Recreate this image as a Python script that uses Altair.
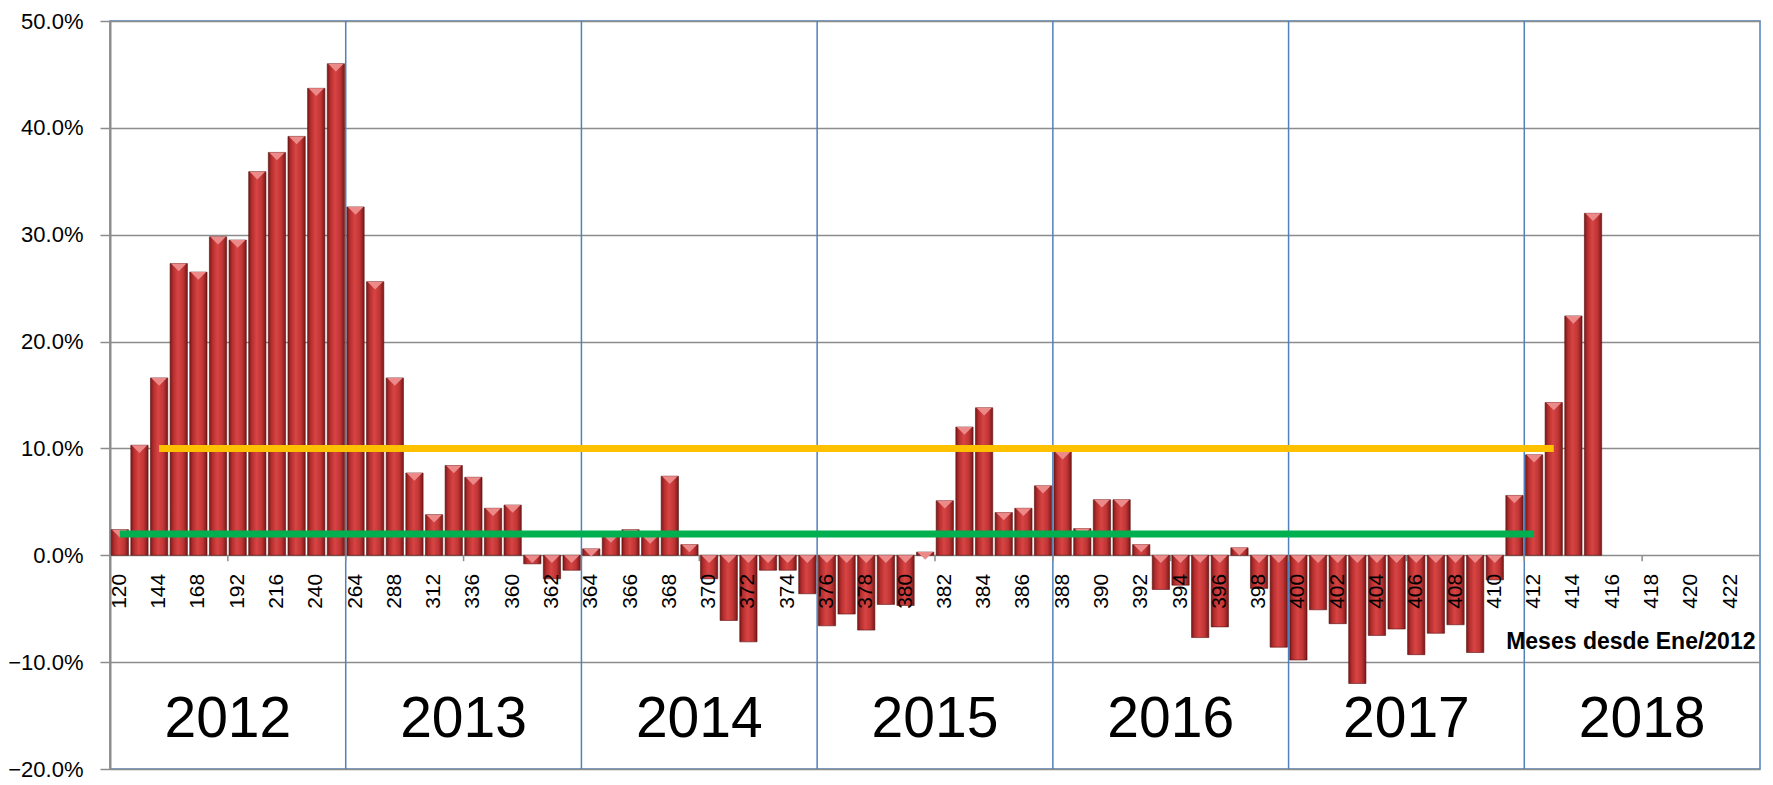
import altair as alt
import pandas as pd

# ---------------- data ----------------
categories = [
    "120", "132", "144", "156", "168", "180", "192", "204", "216", "228",
    "240", "252", "264", "276", "288", "300", "312", "324", "336", "348",
    "360", "361", "362", "363", "364", "365", "366", "367", "368", "369",
    "370", "371", "372", "373", "374", "375", "376", "377", "378", "379",
    "380", "381", "382", "383", "384", "385", "386", "387", "388", "389",
    "390", "391", "392", "393", "394", "395", "396", "397", "398", "399",
    "400", "401", "402", "403", "404", "405", "406", "407", "408", "409",
    "410", "411", "412", "413", "414", "415", "416", "417", "418", "419",
    "420", "421", "422", "423",
]

values = [
    2.4, 10.3, 16.6, 27.3, 26.5, 29.8, 29.5, 35.9, 37.7, 39.2,
    43.7, 46.0, 32.6, 25.6, 16.6, 7.7, 3.8, 8.4, 7.3, 4.4,
    4.7, -0.8, -2.2, -1.4, 0.6, 1.9, 2.4, 1.8, 7.4, 1.0,
    -2.2, -6.1, -8.1, -1.4, -1.4, -3.6, -6.6, -5.5, -7.0, -4.6,
    -4.7, 0.3, 5.1, 12.0, 13.8, 4.0, 4.4, 6.5, 9.7, 2.5,
    5.2, 5.2, 1.0, -3.2, -2.8, -7.7, -6.7, 0.7, -3.1, -8.6,
    -9.8, -5.1, -6.4, -12.0, -7.5, -6.9, -9.3, -7.3, -6.5, -9.1,
    -2.3, 5.6, 9.4, 14.3, 22.4, 32.0,
]

years = ["2012", "2013", "2014", "2015", "2016", "2017", "2018"]

threshold_values = [10, 2]
threshold_start = ["144", "120"]
threshold_end = ["413", "412"]
threshold_colors = ["#FFC000", "#00B050"]

y_ticks = [-20, -10, 0, 10, 20, 30, 40, 50]

# ---------------- layout ----------------
W = 1650
H = 748
n = len(categories)
step = W / n
months_per_year = 12
tick_every = 6

df_bars = pd.DataFrame({"cat": categories[: len(values)], "v": values})
df_years = pd.DataFrame({
    "year": years,
    "cat": [categories[i * months_per_year + months_per_year // 2] for i in range(len(years))],
})
df_bounds = pd.DataFrame({
    "cat": [categories[i * months_per_year] for i in range(1, len(years))],
})
df_ticks = pd.DataFrame({"cat": categories[::tick_every]})
df_thr = pd.DataFrame({
    "cat": threshold_start, "cat2": threshold_end,
    "v": threshold_values, "c": threshold_colors,
})

FONT = "Liberation Sans"
GRID = "#8C8C8C"

xscale = alt.Scale(domain=categories, paddingInner=0.12, paddingOuter=0.06)
yscale = alt.Scale(domain=[-20, 50], nice=False, zero=False)

xaxis = alt.Axis(
    values=categories[::2], labelAngle=270, labelAlign="right", labelBaseline="middle",
    labelPadding=18, ticks=False, domain=False, grid=False,
    offset=-H * 20 / 70, labelFontSize=21, labelFont=FONT, labelColor="black",
    labelOverlap=False, labelFlush=False, zindex=1,
    title="Meses desde Ene/2012", titleFont=FONT, titleFontSize=23,
    titleFontWeight="bold", titleColor="black", titleX=1645, titleY=86,
    titleAlign="right", titleBaseline="middle", titleAnchor="end",
)
yaxis = alt.Axis(
    values=y_ticks, labelExpr="format(datum.value, '.1f') + '%'",
    grid=True, gridColor=GRID, gridWidth=1.5,
    domainColor=GRID, domainWidth=2,
    tickColor=GRID, tickSize=10, tickWidth=1.5,
    labelPadding=17, labelFontSize=22, labelFont=FONT, labelColor="black",
    title=None,
)

X = alt.X("cat:N", scale=xscale, sort=categories, axis=xaxis)
Y = alt.Y("v:Q", scale=yscale, axis=yaxis)

bar_fill = alt.Gradient(
    gradient="linear", x1=0, x2=1, y1=0, y2=0,
    stops=[
        alt.GradientStop(offset=0, color="#7A1818"),
        alt.GradientStop(offset=0.18, color="#B52E2E"),
        alt.GradientStop(offset=0.45, color="#D84444"),
        alt.GradientStop(offset=0.75, color="#C03535"),
        alt.GradientStop(offset=1, color="#7A1818"),
    ],
)

year_rules = alt.Chart(df_bounds).mark_rule(
    color="#4F81BD", strokeWidth=1.5, xOffset=-step / 2
).encode(x=X)

x_ticks = alt.Chart(df_ticks).mark_rule(
    color=GRID, strokeWidth=1.5, xOffset=-step / 2
).encode(
    x=X,
    y=alt.Y(datum=0, scale=yscale, axis=yaxis),
    y2=alt.datum(-0.55),
)

bars = alt.Chart(df_bars).mark_bar(
    fill=bar_fill, stroke="#5A1010", strokeWidth=0.6
).encode(x=X, y=Y, y2=alt.datum(0))

tri = alt.Chart(df_bars).transform_calculate(
    ytop="max(datum.v, 0)"
).mark_point(
    shape="M-1,0L1,0L0,1Z", size=240, filled=True, color="#EC8A8A",
    opacity=1, strokeWidth=0
).encode(x=X, y=alt.Y("ytop:Q", scale=yscale, axis=yaxis))

thr = alt.Chart(df_thr).mark_rule(strokeWidth=7, strokeCap="butt").encode(
    x=X, x2="cat2:N", y=Y,
    color=alt.Color("c:N", scale=None),
)

year_text = alt.Chart(df_years).mark_text(
    font=FONT, fontSize=57, baseline="alphabetic", align="center",
    xOffset=-step / 2, color="black"
).encode(
    x=X, y=alt.Y(datum=-17.0, scale=yscale, axis=yaxis), text="year:N"
)

chart = alt.layer(year_rules, x_ticks, bars, tri, thr, year_text).properties(
    width=W, height=H,
    autosize=alt.AutoSizeParams(type="none"),
    padding={"left": 102, "top": 13, "right": 5, "bottom": 14},
    background="white",
).configure_view(stroke="#4F81BD", strokeWidth=1.5)

chart.save("out.html", embed_options={"renderer": "svg", "actions": False})
